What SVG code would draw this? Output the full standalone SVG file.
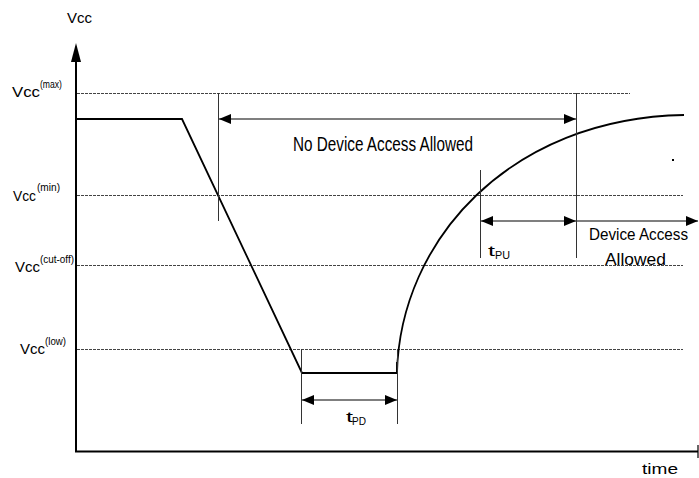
<svg xmlns="http://www.w3.org/2000/svg" width="699" height="478" viewBox="0 0 699 478">
<defs>
<marker id="ah" viewBox="0 0 12 10" refX="12" refY="5" markerWidth="12" markerHeight="10" markerUnits="userSpaceOnUse" orient="auto-start-reverse">
<path d="M0,0 L12,5 L0,10 Z" fill="#000"/>
</marker>
</defs>
<style>
.t{font-family:"Liberation Sans",Arial,sans-serif;fill:#000}
.dash{stroke:#444;stroke-width:1;stroke-dasharray:3,1;fill:none}
.mk{stroke:#333;stroke-width:1;fill:none}
.sig{stroke:#000;stroke-width:1.8;fill:none}
.dim{stroke:#000;stroke-width:1.2;fill:none}
</style>
<rect width="699" height="478" fill="#fff"/>
<g id="grid">
<line class="dash" x1="77" y1="93.5" x2="630" y2="93.5"/>
<line class="dash" x1="77" y1="195.5" x2="683" y2="195.5"/>
<line class="dash" x1="77" y1="265.5" x2="683" y2="265.5"/>
<line class="dash" x1="77" y1="349.5" x2="683" y2="349.5"/>
</g>
<g id="axes">
<line x1="76" y1="452" x2="76" y2="60" stroke="#000" stroke-width="2"/>
<path d="M76,43 L71,62 L81,62 Z" fill="#000"/>
<line x1="75" y1="451.5" x2="698" y2="451.5" stroke="#000" stroke-width="2"/>
<line x1="698" y1="445" x2="698" y2="458" stroke="#000" stroke-width="1.2"/>
</g>
<g id="signal">
<path class="sig" d="M77,119 L182,119 L302,373 L397,373 L397,362"/>
<path class="sig" d="M397,373 C400,240 510,118 684,115"/>
<rect x="672" y="159" width="2" height="2" fill="#000"/>
</g>
<g id="markers">
<line class="mk" x1="218.5" y1="93" x2="218.5" y2="221"/>
<line class="mk" x1="576.5" y1="93" x2="576.5" y2="258"/>
<line class="mk" x1="480.5" y1="170" x2="480.5" y2="258"/>
<line class="mk" x1="301.5" y1="349" x2="301.5" y2="424"/>
<line class="mk" x1="397.5" y1="349" x2="397.5" y2="424"/>
</g>
<g id="connectors">
<line class="dim" x1="219" y1="119" x2="576" y2="119" marker-start="url(#ah)" marker-end="url(#ah)"/>
<line class="dim" x1="481" y1="221" x2="576" y2="221" marker-start="url(#ah)" marker-end="url(#ah)"/>
<line class="dim" x1="577" y1="221" x2="698" y2="221" marker-end="url(#ah)"/>
<line class="dim" x1="302" y1="400" x2="397" y2="400" marker-start="url(#ah)" marker-end="url(#ah)"/>
</g>
<g id="labels">
<text class="t" x="67" y="23" font-size="14" textLength="25" lengthAdjust="spacingAndGlyphs">Vcc</text>
<text class="t" x="12" y="97" font-size="15" textLength="28" lengthAdjust="spacingAndGlyphs">Vcc</text>
<text class="t" x="40" y="88" font-size="10" textLength="22" lengthAdjust="spacingAndGlyphs">(max)</text>
<text class="t" x="13" y="201" font-size="15" textLength="23" lengthAdjust="spacingAndGlyphs">Vcc</text>
<text class="t" x="37" y="191" font-size="10" textLength="23" lengthAdjust="spacingAndGlyphs">(min)</text>
<text class="t" x="15" y="272" font-size="15" textLength="25" lengthAdjust="spacingAndGlyphs">Vcc</text>
<text class="t" x="40" y="263" font-size="10" textLength="34" lengthAdjust="spacingAndGlyphs">(cut-off)</text>
<text class="t" x="20" y="354" font-size="15" textLength="25" lengthAdjust="spacingAndGlyphs">Vcc</text>
<text class="t" x="45" y="345" font-size="10" textLength="21" lengthAdjust="spacingAndGlyphs">(low)</text>
<text class="t" x="293" y="151" font-size="20" textLength="180" lengthAdjust="spacingAndGlyphs">No Device Access Allowed</text>
<text class="t" x="589" y="240" font-size="17" textLength="99" lengthAdjust="spacingAndGlyphs">Device Access</text>
<text class="t" x="605" y="265" font-size="17" textLength="61" lengthAdjust="spacingAndGlyphs">Allowed</text>
<text class="t" x="488" y="256" font-size="15" textLength="7" lengthAdjust="spacingAndGlyphs">t</text>
<text class="t" x="495" y="259" font-size="11" textLength="15" lengthAdjust="spacingAndGlyphs">PU</text>
<text class="t" x="346" y="422" font-size="15" textLength="7" lengthAdjust="spacingAndGlyphs">t</text>
<text class="t" x="352" y="425" font-size="11" textLength="14" lengthAdjust="spacingAndGlyphs">PD</text>
<text class="t" x="642" y="474" font-size="15" textLength="36" lengthAdjust="spacingAndGlyphs">time</text>
</g>
</svg>
